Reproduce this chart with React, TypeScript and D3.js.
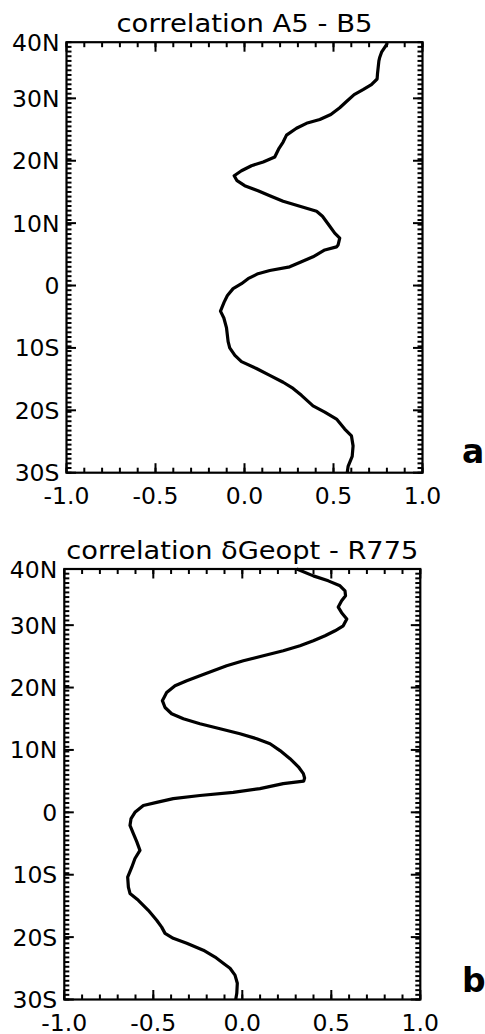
import React from 'react';
import * as d3 from 'd3';

// ---- data ----
const latsA = [39.0, 38.7, 37.4, 36.6, 36.0, 33.9, 33.1, 32.2, 31.4, 30.6, 29.5, 28.5, 27.4, 26.6, 26.0, 25.2, 24.1, 23.0, 22.0, 20.6, 19.8, 19.2, 18.4, 17.6, 16.8, 16.0, 15.2, 14.4, 13.5, 12.7, 11.9, 11.1, 9.5, 8.4, 7.6, 6.5, 6.2, 5.7, 4.6, 3.8, 3.0, 2.4, 1.9, 1.1, 0.3, -0.5, -1.6, -2.7, -4.1, -5.2, -6.8, -9.0, -10.0, -11.2, -12.2, -13.3, -14.4, -15.5, -16.5, -17.6, -19.3, -20.3, -21.4, -23.0, -24.1, -25.7, -27.4, -29.0, -30.0];
const valuesA = [0.80, 0.80, 0.77, 0.76, 0.755, 0.747, 0.745, 0.713, 0.666, 0.616, 0.573, 0.535, 0.485, 0.423, 0.348, 0.292, 0.236, 0.217, 0.194, 0.170, 0.105, 0.039, -0.017, -0.058, -0.042, 0.001, 0.076, 0.142, 0.217, 0.311, 0.405, 0.438, 0.479, 0.507, 0.535, 0.526, 0.517, 0.451, 0.385, 0.32, 0.254, 0.142, 0.076, 0.02, -0.017, -0.064, -0.096, -0.115, -0.135, -0.116, -0.101, -0.092, -0.083, -0.054, -0.017, 0.067, 0.142, 0.217, 0.273, 0.32, 0.385, 0.451, 0.517, 0.563, 0.601, 0.61, 0.605, 0.582, 0.577];

const latsB = [39.0, 37.9, 37.1, 36.3, 35.5, 34.7, 33.9, 32.9, 32.0, 31.0, 29.9, 29.1, 28.3, 27.5, 26.7, 25.9, 25.1, 24.3, 23.5, 22.7, 21.9, 21.1, 20.3, 19.2, 17.9, 16.8, 15.8, 15.0, 14.2, 13.4, 12.6, 11.8, 11.0, 9.9, 8.6, 7.3, 6.2, 5.5, 5.0, 4.6, 3.8, 3.2, 2.7, 2.2, 1.6, 1.1, 0.0, -1.0, -2.1, -3.4, -4.7, -6.1, -7.4, -8.8, -10.4, -12.0, -13.0, -14.1, -15.7, -17.3, -18.4, -19.4, -20.2, -21.0, -22.1, -23.2, -24.2, -25.0, -26.1, -27.4, -29.0, -30.0];
const valuesB = [0.306, 0.399, 0.483, 0.549, 0.577, 0.58, 0.558, 0.539, 0.558, 0.587, 0.567, 0.521, 0.465, 0.399, 0.324, 0.230, 0.118, 0.006, -0.088, -0.163, -0.238, -0.312, -0.378, -0.425, -0.449, -0.434, -0.397, -0.331, -0.238, -0.125, -0.013, 0.081, 0.156, 0.212, 0.268, 0.315, 0.343, 0.35, 0.345, 0.230, 0.099, -0.051, -0.238, -0.388, -0.481, -0.556, -0.603, -0.625, -0.631, -0.612, -0.593, -0.575, -0.603, -0.621, -0.644, -0.640, -0.631, -0.584, -0.528, -0.481, -0.453, -0.434, -0.388, -0.312, -0.219, -0.153, -0.107, -0.069, -0.041, -0.028, -0.031, -0.037];

const xTickValues = [-1, -0.5, 0, 0.5, 1];
const xTickLabels = ['-1.0', '-0.5', '0.0', '0.5', '1.0'];
const yTickValues = [39, 30, 20, 10, 0, -10, -20, -30];
const yTickLabels = ['40N', '30N', '20N', '10N', '0', '10S', '20S', '30S'];
const titles = ['correlation A5 - B5', 'correlation \u03b4Geopt - R775'];
const panelLetters = ['a', 'b'];

const xDomain: [number, number] = [-1, 1];
const latDomain: [number, number] = [-30, 39];
const xMinorCount = 20; // 0.1 steps
const latMinorCount = 92; // 0.75 deg steps

// ---- layout ----
const W = 485;
const H = 1034;
const PW = 356;
const PH = 430.5;
const FONT = '"DejaVu Sans", Verdana, sans-serif';
const layout = [
  { left: 66.5, top: 42.2, titleLen: 256, letterX: 462, letterY: 463.3 },
  { left: 64.3, top: 569, titleLen: 352, letterX: 462, letterY: 991.7 },
];
const MAJOR = 9.5;
const MINOR = 5;
const TICK_COLOR = '#000';

type Seg = { x1: number; y1: number; x2: number; y2: number };

function Panel({ idx, lats, values }: { idx: number; lats: number[]; values: number[] }) {
  const L = layout[idx];
  const x = d3.scaleLinear().domain(xDomain).range([L.left, L.left + PW]);
  const y = d3.scaleLinear().domain(latDomain).range([L.top + PH, L.top]);
  const bottom = L.top + PH;
  const right = L.left + PW;
  const pts = lats.map((lat, i) => [values[i], lat] as [number, number]);
  const line = d3.line<[number, number]>().x((d) => x(d[0])).y((d) => y(d[1]));
  const segs: Seg[] = [];
  const addX = (v: number, len: number) => {
    const px = x(v);
    segs.push({ x1: px, y1: bottom, x2: px, y2: bottom - len });
    segs.push({ x1: px, y1: L.top, x2: px, y2: L.top + len });
  };
  const addY = (v: number, len: number) => {
    const py = y(v);
    segs.push({ x1: L.left, y1: py, x2: L.left + len, y2: py });
    segs.push({ x1: right, y1: py, x2: right - len, y2: py });
  };
  for (let k = 0; k <= xMinorCount; k++) {
    addX(xDomain[0] + (k * (xDomain[1] - xDomain[0])) / xMinorCount, MINOR);
  }
  xTickValues.forEach((v) => addX(v, MAJOR));
  for (let k = 0; k <= latMinorCount; k++) {
    addY(latDomain[0] + (k * (latDomain[1] - latDomain[0])) / latMinorCount, MINOR);
  }
  yTickValues.filter((v) => v < latDomain[1]).forEach((v) => addY(v, MAJOR));
  return (
    <g>
      <rect x={L.left} y={L.top} width={PW} height={PH} fill="none" stroke="#000" strokeWidth={2.2} />
      <path d={line(pts) || ''} stroke="#000" strokeWidth={3.2} fill="none" strokeLinejoin="round" />
      {segs.map((s, i) => (
        <line key={i} x1={s.x1} y1={s.y1} x2={s.x2} y2={s.y2} stroke={TICK_COLOR} strokeWidth={2} />
      ))}
      <text
        x={(L.left + right) / 2}
        y={L.top - 10.5}
        textAnchor="middle"
        fontFamily={FONT}
        fontSize={25}
        textLength={L.titleLen}
        lengthAdjust="spacingAndGlyphs"
        fill="#000"
      >
        {titles[idx]}
      </text>
      {xTickValues.map((v, i) => (
        <text key={'x' + i} x={x(v)} y={bottom + 31} textAnchor="middle" fontFamily={FONT} fontSize={23.5} fill="#000">
          {xTickLabels[i]}
        </text>
      ))}
      {yTickValues.map((v, i) => (
        <text key={'y' + i} x={L.left - 7} y={y(v) + 8.5} textAnchor="end" fontFamily={FONT} fontSize={23.5} fill="#000">
          {yTickLabels[i]}
        </text>
      ))}
      <text x={L.letterX} y={L.letterY} fontFamily={FONT} fontWeight="bold" fontSize={33} fill="#000">
        {panelLetters[idx]}
      </text>
    </g>
  );
}

export default function App() {
  return (
    <svg width={W} height={H} style={{ position: 'absolute', left: 0, top: 0, display: 'block' }}>
      <Panel idx={0} lats={latsA} values={valuesA} />
      <Panel idx={1} lats={latsB} values={valuesB} />
    </svg>
  );
}
